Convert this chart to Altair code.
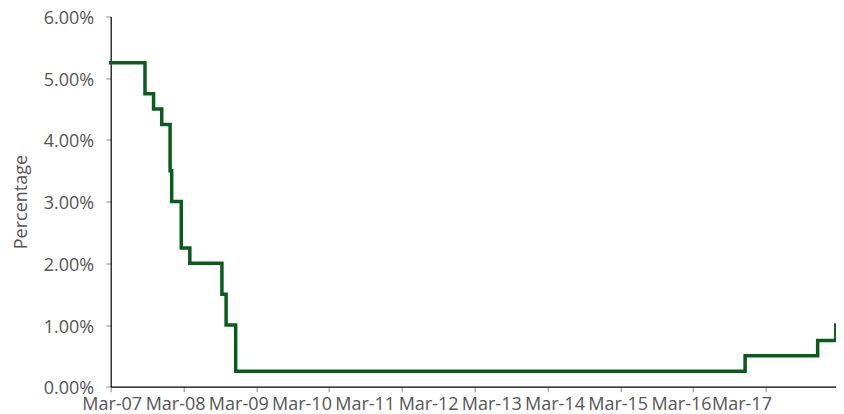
import altair as alt
import pandas as pd

# Fed funds target (upper bound), step changes
dates = ["2007-03-30", "2007-09-18", "2007-10-31", "2007-12-11", "2008-01-22",
         "2008-01-30", "2008-03-18", "2008-04-30", "2008-10-08", "2008-10-29",
         "2008-12-16", "2015-12-16", "2016-12-14", "2017-03-15", "2017-03-16"]
rates = [5.25, 4.75, 4.50, 4.25, 3.50, 3.00, 2.25, 2.00, 1.50, 1.00,
         0.25, 0.50, 0.75, 1.00, 1.00]

tick_dates = [(2007, 3, 30), (2008, 3, 30), (2009, 3, 30), (2010, 3, 30), (2011, 3, 30),
              (2012, 3, 30), (2013, 3, 30), (2014, 3, 30), (2015, 3, 30), (2016, 3, 30),
              (2017, 3, 16)]
y_ticks = [0, 1, 2, 3, 4, 5, 6]

df = pd.DataFrame({"date": dates, "rate": rates})

FONT = "Open Sans"
TEXT = "#555555"

x_vals = [alt.DateTime(year=y, month=m, date=d, utc=True) for (y, m, d) in tick_dates]

chart = alt.Chart(df).mark_line(
    interpolate="step-after", color="#0a5c1c", strokeWidth=3.5, strokeCap="square"
).encode(
    x=alt.X("date:T", title=None,
            scale=alt.Scale(type="utc", nice=False,
                            domain=[alt.DateTime(year=2007, month=3, date=30, utc=True),
                                    alt.DateTime(year=2017, month=3, date=16, utc=True)]),
            axis=alt.Axis(values=x_vals, format="%b-%y", labelOverlap=False,
                          labelFlush=False, grid=False, tickSize=5,
                          tickColor="#8c8c8c", domainColor="#000000",
                          tickOpacity={"expr": "datum.index >= 1 ? 0 : 1"},
                          labelOffset={"expr": "1 - 95.5*datum.index"},
                          labelPadding=4)),
    y=alt.Y("rate:Q", title="Percentage",
            scale=alt.Scale(domain=[0, 6], nice=False),
            axis=alt.Axis(values=y_ticks, labelExpr="format(datum.value, '.2f') + '%'",
                          grid=False, tickSize=5, tickColor="#8c8c8c", labelOffset=2,
                          domainColor="#000000", labelPadding=12, titlePadding=13)),
).properties(
    width=725.3, height=370.2,
    padding={"left": 102.7, "top": 8.5, "right": 0, "bottom": 27.3},
    autosize="none",
).configure_axis(
    labelFont=FONT, labelFontSize=18, labelColor=TEXT,
    titleFont=FONT, titleFontSize=18, titleColor=TEXT, titleFontWeight="normal",
    domainWidth=1.2,
).configure_view(stroke=None)

chart.save("out.html", embed_options={"renderer": "svg", "actions": False})
